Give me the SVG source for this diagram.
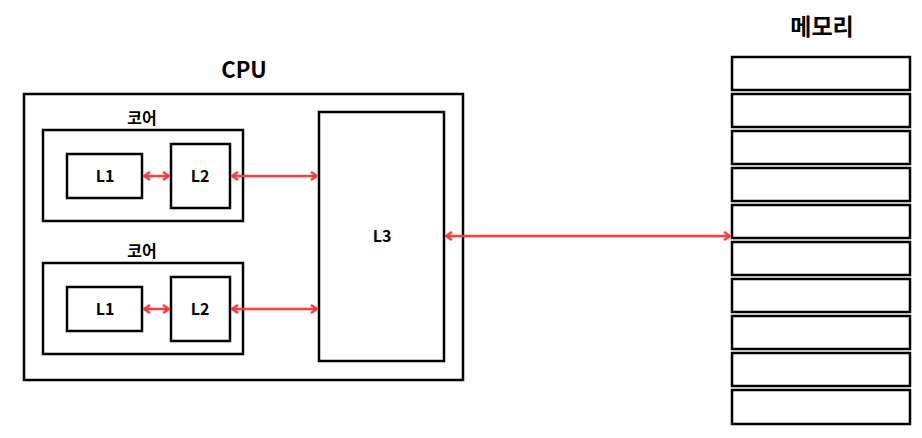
<svg xmlns="http://www.w3.org/2000/svg" width="922" height="438" viewBox="0 0 922 438">
<style>
.box{fill:#fff;stroke:#000;stroke-width:2.5}
.lbl{font-family:"Noto Sans CJK KR","Liberation Sans",sans-serif;font-weight:bold;fill:#000;text-anchor:middle}
.arr{stroke:#ff3b3b;stroke-width:2.5;fill:none;marker-start:url(#ah);marker-end:url(#ah)}
</style>
<defs>
<marker id="ah" viewBox="0 0 10 10" refX="9" refY="5" markerWidth="10" markerHeight="10" markerUnits="userSpaceOnUse" orient="auto-start-reverse">
<polyline points="3,1 9,5 3,9" fill="none" stroke="#ff3b3b" stroke-width="2.5"/>
</marker>
</defs>
<g id="cpu">
<rect class="box" x="24" y="94" width="439" height="286"/>
<text class="lbl" x="244" y="78" font-size="22">CPU</text>
</g>
<g id="core1">
<rect class="box" x="43" y="130" width="200" height="91"/>
<text class="lbl" x="142" y="124" font-size="16">코어</text>
</g>
<g id="core1-l1">
<rect class="box" x="67" y="154" width="75" height="44"/>
<text class="lbl" x="105" y="182" font-size="16">L1</text>
</g>
<g id="core1-l2">
<rect class="box" x="171" y="144" width="59" height="64"/>
<text class="lbl" x="200" y="182" font-size="16">L2</text>
</g>
<g id="core2">
<rect class="box" x="43" y="263" width="200" height="91"/>
<text class="lbl" x="142" y="257" font-size="16">코어</text>
</g>
<g id="core2-l1">
<rect class="box" x="67" y="287" width="75" height="44"/>
<text class="lbl" x="105" y="315" font-size="16">L1</text>
</g>
<g id="core2-l2">
<rect class="box" x="171" y="277" width="59" height="64"/>
<text class="lbl" x="200" y="315" font-size="16">L2</text>
</g>
<g id="l3">
<rect class="box" x="319" y="112" width="125" height="249"/>
<text class="lbl" x="382" y="242" font-size="16">L3</text>
</g>
<g id="memory">
<text class="lbl" x="822" y="35" font-size="23">메모리</text>
<rect class="box" x="732" y="57" width="178" height="33"/>
<rect class="box" x="732" y="94" width="178" height="33"/>
<rect class="box" x="732" y="131" width="178" height="33"/>
<rect class="box" x="732" y="168" width="178" height="33"/>
<rect class="box" x="732" y="205" width="178" height="33"/>
<rect class="box" x="732" y="242" width="178" height="33"/>
<rect class="box" x="732" y="279" width="178" height="33"/>
<rect class="box" x="732" y="316" width="178" height="33"/>
<rect class="box" x="732" y="353" width="178" height="33"/>
<rect class="box" x="732" y="390" width="178" height="34"/>
</g>
<g id="connectors">
<line class="arr" x1="144" y1="176" x2="169" y2="176"/>
<line class="arr" x1="232" y1="176" x2="317" y2="176"/>
<line class="arr" x1="144" y1="309" x2="169" y2="309"/>
<line class="arr" x1="232" y1="309" x2="317" y2="309"/>
<line class="arr" x1="446" y1="236" x2="730" y2="236"/>
</g>
</svg>
